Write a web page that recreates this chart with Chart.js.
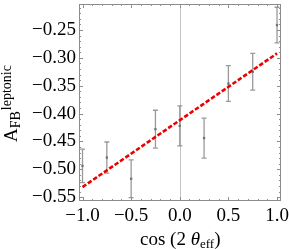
<!DOCTYPE html>
<html>
<head>
<meta charset="utf-8">
<script src="https://cdn.jsdelivr.net/npm/chart.js@4.4.1/dist/chart.umd.min.js"></script>
<style>
  html, body { margin: 0; padding: 0; background: #fff; }
  #wrap { width: 289px; height: 249px; }
</style>
</head>
<body>
<div id="wrap"><canvas id="chart"></canvas></div>
<script>
// measured points with symmetric errors
const xValues = [-1.0, -0.75, -0.5, -0.25, 0.0, 0.25, 0.5, 0.75, 1.0];
const yValues = [-0.494, -0.479, -0.517, -0.428, -0.422, -0.444, -0.346, -0.325, -0.241];
const yErrors = [0.030, 0.028, 0.034, 0.034, 0.036, 0.036, 0.032, 0.033, 0.032];
// linear fit end points
const fitX = [-1.0, 1.0];
const fitY = [-0.532, -0.292];
// tick labels
const xTicks = [-1.0, -0.5, 0.0, 0.5, 1.0];
const yTicks = [-0.55, -0.50, -0.45, -0.40, -0.35, -0.30, -0.25];

const SERIF = '"Liberation Serif", "DejaVu Serif", serif';
const FRAME = '#8c8c8c';

function minus(s) { return s.replace('-', '\u2212'); }

// no extra room for overhanging tick labels, the frame fills the canvas
function noPad(s) {
    s.paddingTop = 0; s.paddingBottom = 0;
    s.paddingLeft = 0; s.paddingRight = 0;
}

// frame, inside ticks, zero line, error bars and axis titles
const framePlugin = {
    id: 'frame',
    beforeDatasetsDraw(chart) {
        const ctx = chart.ctx;
        const a = chart.chartArea;
        const x = chart.scales.x, y = chart.scales.y;
        ctx.save();
        // vertical line at x = 0
        const x0 = Math.round(x.getPixelForValue(0)) + 0.5;
        ctx.strokeStyle = '#c4c4c4';
        ctx.lineWidth = 1;
        ctx.beginPath();
        ctx.moveTo(x0, a.top);
        ctx.lineTo(x0, a.bottom);
        ctx.stroke();
        // error bars
        ctx.strokeStyle = 'rgba(120,120,120,0.75)';
        ctx.lineWidth = 1.3;
        xValues.forEach((xv, i) => {
            const px = x.getPixelForValue(xv);
            const top = y.getPixelForValue(yValues[i] + yErrors[i]);
            const bot = y.getPixelForValue(yValues[i] - yErrors[i]);
            ctx.beginPath();
            ctx.moveTo(px, top); ctx.lineTo(px, bot);
            ctx.moveTo(px - 2.5, top); ctx.lineTo(px + 2.5, top);
            ctx.moveTo(px - 2.5, bot); ctx.lineTo(px + 2.5, bot);
            ctx.stroke();
        });
        ctx.restore();
    },
    afterDraw(chart) {
        const ctx = chart.ctx;
        const a = chart.chartArea;
        const x = chart.scales.x, y = chart.scales.y;
        ctx.save();
        ctx.strokeStyle = FRAME;
        ctx.lineWidth = 1;
        ctx.strokeRect(a.left + 0.5, a.top + 0.5, a.right - a.left - 1, a.bottom - a.top - 1);

        ctx.beginPath();
        // x ticks, major every 0.5, minor every 0.1
        for (let k = -10; k <= 10; k++) {
            const px = Math.round(x.getPixelForValue(k / 10)) + 0.5;
            const len = (k % 5 === 0) ? 4 : 2;
            ctx.moveTo(px, a.bottom); ctx.lineTo(px, a.bottom - len);
            ctx.moveTo(px, a.top); ctx.lineTo(px, a.top + len);
        }
        // y ticks, major every 0.05, minor every 0.01
        for (let k = -55; k <= -21; k++) {
            const py = Math.round(y.getPixelForValue(k / 100)) + 0.5;
            const len = (k % 5 === 0) ? 4 : 2;
            ctx.moveTo(a.left, py); ctx.lineTo(a.left + len, py);
            ctx.moveTo(a.right, py); ctx.lineTo(a.right - len, py);
        }
        ctx.stroke();

        // x title: cos (2 θ_eff)
        ctx.fillStyle = '#000';
        ctx.textBaseline = 'alphabetic';
        ctx.textAlign = 'left';
        let cx = 140;
        const by = 245;
        ctx.font = '19px ' + SERIF;
        ctx.fillText('cos (2 ', cx, by);
        cx += ctx.measureText('cos (2 ').width;
        ctx.font = 'italic 19px ' + SERIF;
        ctx.fillText('\u03b8', cx, by);
        cx += ctx.measureText('\u03b8').width;
        ctx.font = '13px ' + SERIF;
        ctx.fillText('eff', cx, by + 3);
        cx += ctx.measureText('eff').width;
        ctx.font = '19px ' + SERIF;
        ctx.fillText(')', cx, by);

        // y title: A_FB^leptonic, rotated
        ctx.translate(17, 142);
        ctx.rotate(-Math.PI / 2);
        ctx.font = '19px ' + SERIF;
        ctx.fillText('A', 0, 0);
        let tx = ctx.measureText('A').width;
        ctx.font = '14px ' + SERIF;
        ctx.fillText('FB', tx, 3);
        tx += ctx.measureText('FB').width + 1;
        ctx.fillText('leptonic', tx, -6);
        ctx.restore();
    }
};

const ctx = document.getElementById('chart').getContext('2d');

new Chart(ctx, {
    type: 'scatter',
    data: {
        datasets: [
            {
                type: 'line',
                data: fitX.map((v, i) => ({ x: v, y: fitY[i] })),
                borderColor: '#ee0000',
                borderWidth: 2.6,
                borderDash: [4.5, 2],
                pointRadius: 0,
                fill: false
            },
            {
                data: xValues.map((v, i) => ({ x: v, y: yValues[i] })),
                backgroundColor: '#707070',
                borderWidth: 0,
                pointStyle: 'rect',
                pointRadius: 1.6
            }
        ]
    },
    options: {
        responsive: true,
        maintainAspectRatio: false,
        animation: false,
        layout: { padding: { top: 0, right: 8, left: 0, bottom: 0 } },
        plugins: {
            legend: { display: false },
            tooltip: { enabled: false }
        },
        scales: {
            x: {
                type: 'linear',
                min: -1.036,
                max: 1.041,
                grid: { display: false, drawTicks: false },
                border: { display: false },
                afterBuildTicks: (s) => { s.ticks = xTicks.map(v => ({ value: v })); },
                afterFit: (s) => { s.height = 48; noPad(s); },
                ticks: {
                    padding: 4,
                    color: '#000',
                    font: { family: SERIF, size: 19 },
                    maxRotation: 0,
                    callback: (v) => minus(v.toFixed(1))
                }
            },
            y: {
                type: 'linear',
                min: -0.557,
                max: -0.2032,
                grid: { display: false, drawTicks: false },
                border: { display: false },
                afterBuildTicks: (s) => { s.ticks = yTicks.map(v => ({ value: v })); },
                afterFit: (s) => { s.width = 79; noPad(s); },
                ticks: {
                    padding: 3,
                    color: '#000',
                    font: { family: SERIF, size: 19 },
                    callback: (v) => minus(v.toFixed(2))
                }
            }
        }
    },
    plugins: [framePlugin]
});
</script>
</body>
</html>
